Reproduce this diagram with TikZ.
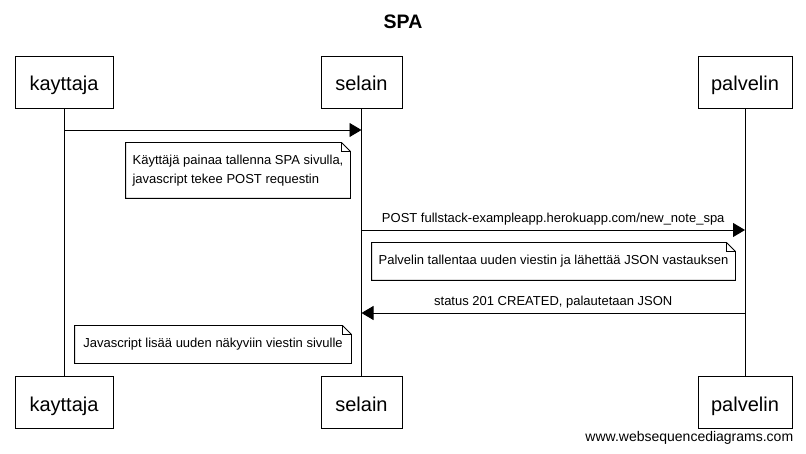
\documentclass[tikz,border=0pt]{standalone}
\usepackage{fontspec}
\setmainfont{Liberation Sans}
\usetikzlibrary{arrows.meta}
\begin{document}
\begin{tikzpicture}[x=1pt, y=-1pt, >={Triangle[length=12pt,width=14pt]}, line width=0.9pt, line join=miter,
	actor/.style={draw, fill=white, minimum height=52pt, inner xsep=0pt, text height=17.4pt, text depth=0pt,
		font=\fontsize{20}{22}\selectfont},
	note/.style={fill=white, inner xsep=0pt, font=\fontsize{13}{19}\selectfont},
	msg/.style={font=\fontsize{13}{15}\selectfont, above=1pt}]
			\def\xk{64} \def\xs{361.5} \def\xp{745} % elamaviivat
			\def\ytop{82} \def\ybot{402.5}
			\def\fold{9pt}
			\useasboundingbox (0,0) rectangle (806,454);
			\node[font=\bfseries\fontsize{19.5}{22}\selectfont] (otsikko) at (403,22) {SPA};
			\node[actor, minimum width=98pt] (kt) at (\xk,\ytop) {kayttaja};
			\node[actor, minimum width=81pt] (st) at (\xs,\ytop) {selain};
			\node[actor, minimum width=94pt] (pt) at (\xp,\ytop) {palvelin};
			\node[actor, minimum width=98pt] (kb) at (\xk,\ybot) {kayttaja};
			\node[actor, minimum width=81pt] (sb) at (\xs,\ybot) {selain};
			\node[actor, minimum width=94pt] (pb) at (\xp,\ybot) {palvelin};
			\draw (kt) -- (kb);
			\draw (st) -- (sb);
			\draw (pt) -- (pb);
			\coordinate (k1) at (\xk,130); \coordinate (s1) at (\xs,130);
			\coordinate (s2) at (\xs,230); \coordinate (p2) at (\xp,230);
			\coordinate (p3) at (\xp,313); \coordinate (s3) at (\xs,313);
			\draw[->] (k1) -- (s1);
			\draw[->] (s2) -- (p2) node[msg, midway]{POST fullstack-exampleapp.herokuapp.com/new\_note\_spa};
			\draw[->] (p3) -- (s3) node[msg, midway]{status 201 CREATED, palautetaan JSON};
			\node[note, align=left, minimum width=224pt, minimum height=55pt] (n1) at (238,170.5)
				{Käyttäjä painaa tallenna SPA sivulla,\\javascript tekee POST requestin};
			\node[note, minimum width=363pt, minimum height=37pt] (n2) at (553.5,261.5)
				{Palvelin tallentaa uuden viestin ja lähettää JSON vastauksen};
			\node[note, minimum width=276pt, minimum height=37pt] (n3) at (213,344.5)
				{Javascript lisää uuden näkyviin viestin sivulle};
			\foreach \n in {n1,n2,n3}
				\draw (\n.north west) -- ([xshift=-\fold]\n.north east) -- ([yshift=-\fold]\n.north east)
					-- (\n.south east) -- (\n.south west) -- cycle
					([xshift=-\fold]\n.north east) |- ([yshift=-\fold]\n.north east);
			\node[anchor=east, font=\fontsize{14}{16}\selectfont] (wsd) at (797,438) {www.websequencediagrams.com};
\end{tikzpicture}
\end{document}
